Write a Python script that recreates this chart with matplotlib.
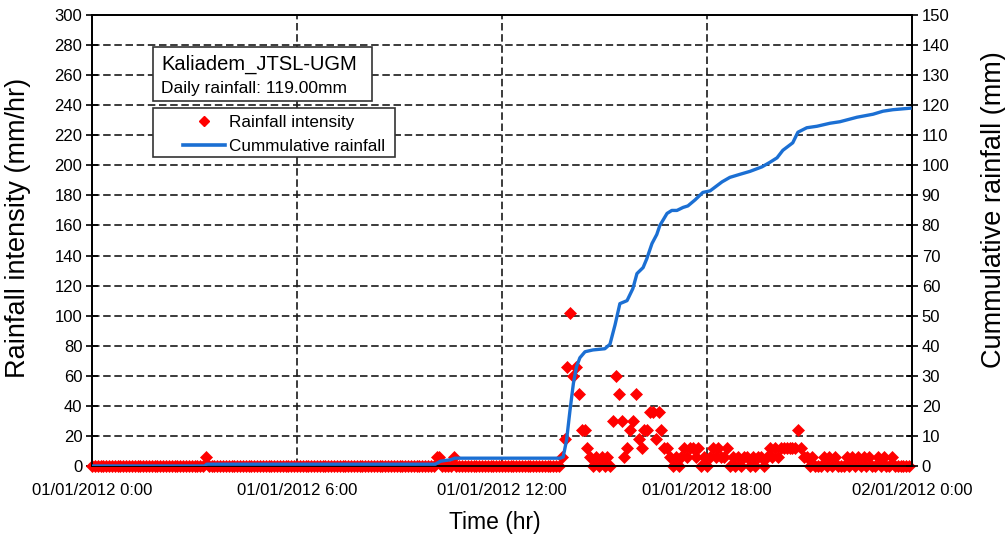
import numpy as np
import matplotlib
matplotlib.use("Agg")
import matplotlib.pyplot as plt
from matplotlib.lines import Line2D
from matplotlib.patches import Rectangle

plt.rcParams['font.family'] = ['Liberation Sans', 'DejaVu Sans']

# 5-minute rainfall intensity record (mm/hr), 288 steps over the day
n_steps = 288
early_idx = [40, 121, 122, 127]
early_val = [6, 6, 6, 6]
storm_start = 164
storm_val = [0, 6, 18, 66, 102, 60, 66, 48, 24, 24,
             12, 6, 0, 6, 0, 6, 0, 6, 0, 30,
             60, 48, 30, 6, 12, 24, 30, 48, 18, 12,
             24, 24, 36, 36, 18, 36, 24, 12, 12, 6,
             0, 6, 0, 6, 12, 6, 12, 12, 6, 12,
             0, 6, 0, 6, 12, 6, 12, 6, 6, 12,
             0, 6, 0, 6, 0, 6, 6, 0, 6, 0,
             6, 6, 0, 6, 12, 6, 12, 6, 12, 12,
             12, 12, 12, 12, 24, 12, 6, 6, 0, 6,
             0, 0, 0, 6, 0, 6, 0, 6, 0, 0,
             0, 6, 0, 6, 0, 6, 0, 6, 0, 6,
             0, 0, 6, 0, 6, 0, 0, 6, 0, 0]

# cumulative rainfall (mm), time in hours
cum_hr = [0, 3.30, 3.36, 10.05, 10.20, 10.50, 10.62, 13.70, 13.79, 13.89,
          13.99, 14.09, 14.18, 14.28, 14.43, 14.66, 15.01, 15.16, 15.31, 15.45,
          15.66, 15.83, 15.95, 16.13, 16.24, 16.39, 16.53, 16.62, 16.83, 16.97,
          17.12, 17.30, 17.44, 17.65, 17.88, 18.09, 18.44, 18.67, 18.96, 19.26,
          19.61, 19.84, 20.05, 20.22, 20.51, 20.66, 20.92, 21.22, 21.60, 21.89,
          22.39, 22.86, 23.15, 23.44, 23.94]
cum_mm = [0, 0, 0.6, 0.6, 1.6, 2.1, 2.6, 2.6, 3.0, 8.6,
          18.5, 27.5, 33, 36, 38, 38.6, 39, 40.5, 47, 54,
          55, 59, 64, 66, 69, 74, 77, 80, 84, 85,
          85, 86, 86.5, 88.5, 91, 91.5, 94.5, 96, 97, 98,
          99.5, 101, 102.5, 105, 107.5, 111, 112.5, 113, 114, 114.5,
          116, 117, 118, 118.5, 119]

station = "Kaliadem_JTSL-UGM"
daily_total = 119.00
xtick_hr = [0, 6, 12, 18, 24]
xtick_labels = ["01/01/2012 0:00", "01/01/2012 6:00", "01/01/2012 12:00",
                "01/01/2012 18:00", "02/01/2012 0:00"]

intensity = np.zeros(n_steps)
intensity[early_idx] = early_val
intensity[storm_start:storm_start + len(storm_val)] = storm_val
t_hr = np.arange(n_steps) * 5 / 60

W, H = 1005, 538
fig = plt.figure(figsize=(W / 100, H / 100), dpi=100)
ax = fig.add_axes([92 / W, 1 - 466 / H, 820 / W, 451 / H])
ax2 = ax.twinx()

dash = (0, (4.5, 2.2))
for v in range(20, 300, 20):
    ax.axhline(v, color='#1a1a1a', lw=1.2, ls=dash, zorder=0)
for h in [6, 12, 18]:
    ax.axvline(h, color='#1a1a1a', lw=1.2, ls=dash, zorder=0)

ax.plot(t_hr, intensity, ls='none', marker='D', ms=6.5, color='#ff0000',
        mec='#ff0000', mew=0.5, zorder=3, clip_on=False)
ax2.plot(cum_hr, cum_mm, color='#1b6fd3', lw=2.4, zorder=4)
ax2.set_zorder(ax.get_zorder() + 1)
ax2.patch.set_visible(False)

ax.set_xlim(0, 24)
ax.set_ylim(0, 300)
ax2.set_ylim(0, 150)
ax.set_yticks(range(0, 301, 20))
ax2.set_yticks(range(0, 151, 10))
ax.set_xticks(xtick_hr)
ax.set_xticklabels(xtick_labels)

for a in (ax, ax2):
    a.tick_params(direction='inout', length=8, width=1.2, labelsize=12,
                  colors='black', pad=3)
    for s in a.spines.values():
        s.set_linewidth(1.3)
        s.set_color('black')
ax.tick_params(axis='x', length=0, pad=12)

ax.set_xlabel("Time (hr)", fontsize=16.5)
ax.xaxis.set_label_coords(403 / 820, -(511 - 466) / 451)
ax.set_ylabel("Rainfall intensity (mm/hr)", fontsize=19.5)
ax.yaxis.set_label_coords(-(92 - 31) / 820, (466 - 228) / 451)
ax2.set_ylabel("Cummulative rainfall (mm)", fontsize=19.5)
ax2.yaxis.set_label_coords((981 - 92) / 820, (466 - 210) / 451)

# station box
fig.patches.append(Rectangle((153 / W, 1 - 101 / H), 219 / W, 54 / H,
                             transform=fig.transFigure, facecolor='white',
                             edgecolor='#333333', lw=1.2, zorder=5))
fig.text(161 / W, 1 - 64 / H, station, fontsize=14.5, va='center', zorder=6)
fig.text(161 / W, 1 - 88 / H, "Daily rainfall: %.2fmm" % daily_total,
         fontsize=12.5, va='center', zorder=6)

# legend box
fig.patches.append(Rectangle((153 / W, 1 - 157 / H), 242 / W, 49 / H,
                             transform=fig.transFigure, facecolor='white',
                             edgecolor='#333333', lw=1.2, zorder=5))
handles = [Line2D([], [], ls='none', marker='D', ms=5, color='#ff0000'),
           Line2D([], [], color='#1b6fd3', lw=2.6)]
leg = fig.legend(handles, ["Rainfall intensity", "Cummulative rainfall"],
                 loc='upper left', bbox_to_anchor=(183 / W, 1 - 115 / H),
                 borderaxespad=0, borderpad=0, fontsize=12.3, frameon=False,
                 handlelength=2.45, handletextpad=0.22, labelspacing=0.5)
leg.set_zorder(7)

fig.savefig("out.png", dpi=100)
